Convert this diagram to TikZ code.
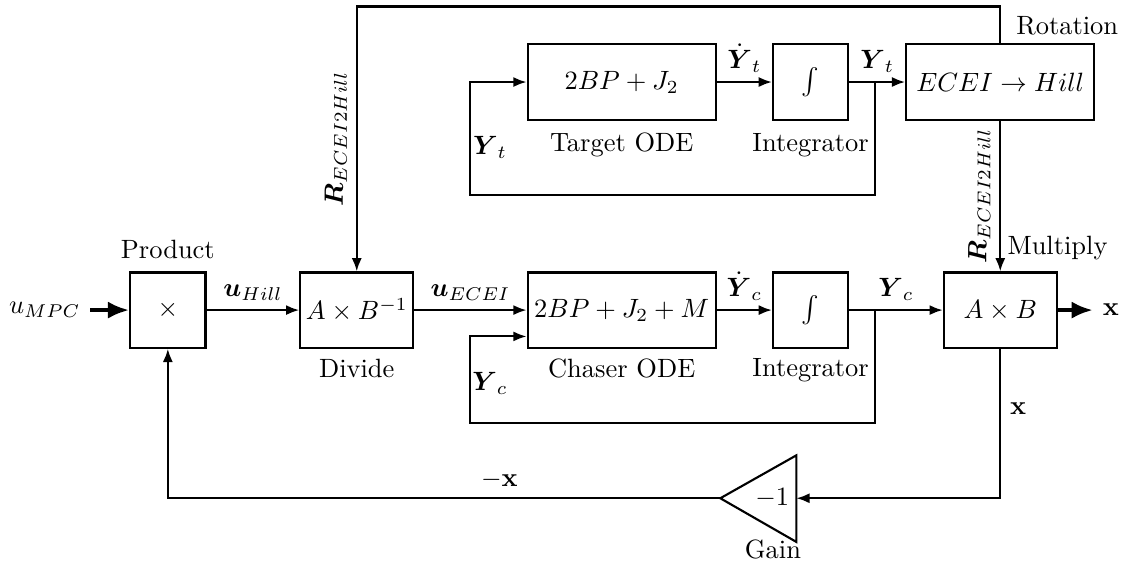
\documentclass[tikz,border=0pt]{standalone}
\usepackage{amsmath,amssymb}
\usepackage{tikz}
\usetikzlibrary{arrows.meta,calc,positioning}

\begin{document}
\begin{tikzpicture}[>={Latex[length=5pt,width=3.8pt]}, thick, line join=miter,
    blk/.style={draw, minimum height=1cm, inner sep=2pt},
    sig/.style={inner xsep=1pt},
    fat/.style={line width=1.6pt, -{Latex[length=8pt,width=6.5pt]}}]
  \useasboundingbox (0,0) rectangle (15,7.51);

  % Chaser chain.
  \node[blk, minimum width=1cm] (prod) at (2.23,3.39) {$\times$};
  \node[blk, minimum width=1.5cm] (div) at (4.74,3.39) {$A\times B^{-1}$};
  \node[blk, minimum width=2.5cm] (chode) at (8.26,3.39) {$2BP+J_2+M$};
  \node[blk, minimum width=1cm] (chint) at (10.77,3.39) {$\int$};
  \node[blk, minimum width=1.5cm] (mult) at (13.29,3.39) {$A\times B$};
  \node[above=1pt of prod] (prodlbl) {Product};
  \node[below=0pt of div] (divlbl) {Divide};
  \node[below=0pt of chode] (chodelbl) {Chaser ODE};
  \node[below=0pt of chint] (chintlbl) {Integrator};
  \node (multlbl) at (14.05,4.21) {Multiply};

  % Target chain.
  \node[blk, minimum width=2.5cm] (tgode) at (8.26,6.42) {$2BP+J_2$};
  \node[blk, minimum width=1cm] (tgint) at (10.77,6.42) {$\int$};
  \node[blk, minimum width=2.5cm] (rot) at (13.29,6.42) {$ECEI\rightarrow Hill$};
  \node[below=1pt of tgode] (tgodelbl) {Target ODE};
  \node[below=1pt of tgint] (tgintlbl) {Integrator};
  \node (rotlbl) at (14.18,7.17) {Rotation};

  % Gain.
  \coordinate (gtip) at (9.57,0.89);
  \coordinate (gin) at (10.58,0.89);
  \draw (gtip) -- (10.58,1.46) -- (10.58,0.31) -- cycle;
  \node (gval) at (10.26,0.89) {$-1$};
  \node (gainlbl) at (10.27,0.21) {Gain};

  % Signals.
  \coordinate (uin) at (1.20,3.39);
  \node[left=0pt of uin] (ulbl) {$u_{MPC}$};
  \draw[fat] (uin) -- (prod.west);
  \draw[->] (prod) -- node[sig, above] {$\boldsymbol{u}_{Hill}$} (div);
  \draw[->] (div) -- node[sig, above] {$\boldsymbol{u}_{ECEI}$} (chode);
  \draw[->] (chode) -- node[sig, above] {$\dot{\boldsymbol{Y}}_c$} (chint);
  \draw[->] (chint) -- node[sig, above] {$\boldsymbol{Y}_c$} (mult);
  \coordinate (chbr) at (11.62,3.39);
  \coordinate (chfb) at ($(chode.west)+(0,-0.35)$);
  \draw[->] (chbr) |- (6.24,1.89) |- (chfb);
  \node (ycfb) at (6.51,2.42) {$\boldsymbol{Y}_c$};

  \draw[->] (tgode) -- node[sig, above] {$\dot{\boldsymbol{Y}}_t$} (tgint);
  \draw[->] (tgint) -- node[sig, above] {$\boldsymbol{Y}_t$} (rot);
  \coordinate (tgbr) at (11.62,6.42);
  \draw[->] (tgbr) |- (6.24,4.92) |- (tgode.west);
  \node (ytfb) at (6.51,5.55) {$\boldsymbol{Y}_t$};

  \draw[->] (rot) -- node[midway, anchor=south, rotate=90] {$\boldsymbol{R}_{ECEI2Hill}$} (mult);
  \draw[->] (rot.north) -- ++(0,0.49) -| node[pos=0.75, anchor=south, rotate=90] {$\boldsymbol{R}_{ECEI2Hill}$} (div.north);

  \coordinate (xout) at (14.52,3.39);
  \draw[fat] (mult.east) -- (xout);
  \node[right=0pt of xout] (xlbl) {$\mathbf{x}$};
  \draw[->] (mult.south) |- node[pos=0.2, right] {$\mathbf{x}$} (gin);
  \draw[->] (gtip) -| node[pos=0.2, above] {$-\mathbf{x}$} (prod.south);
\end{tikzpicture}
\end{document}
